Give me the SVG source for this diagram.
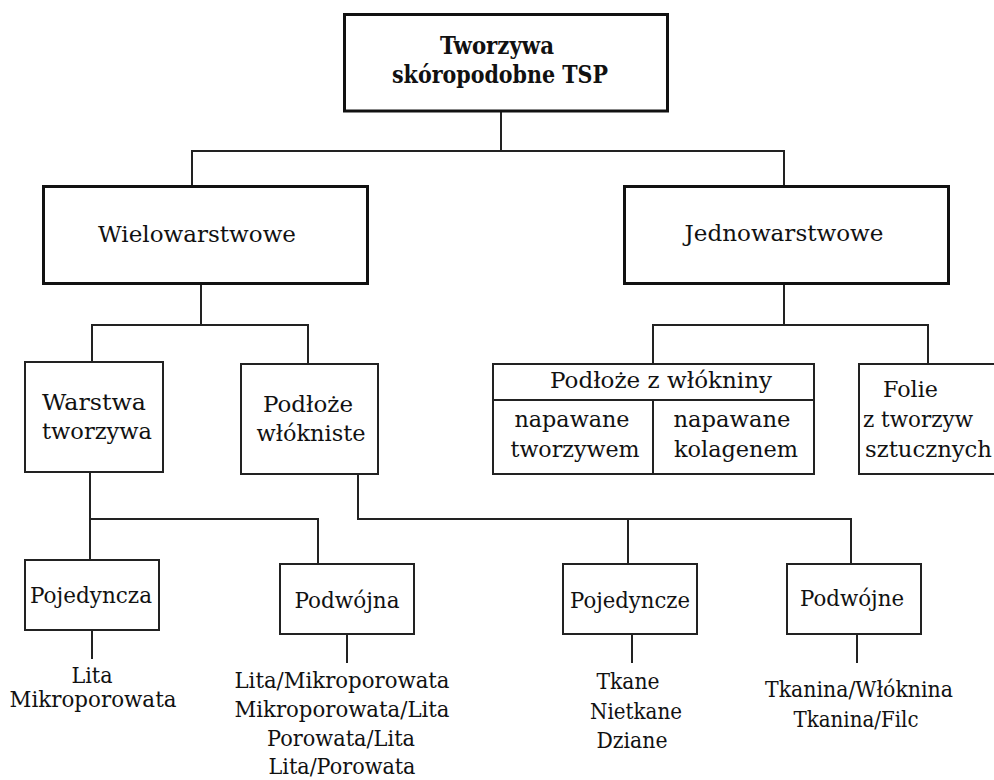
<svg xmlns="http://www.w3.org/2000/svg" width="994" height="780" viewBox="0 0 994 780">
<style>
.bg{fill:#fff}
.thick{fill:#fff;stroke:#111;stroke-width:3}
.thin{fill:#fff;stroke:#222;stroke-width:2}
.conn line,.conn path{stroke:#222;stroke-width:2;fill:none}
text{font-family:"DejaVu Serif","Liberation Serif",serif;font-size:22px;fill:#111;text-anchor:middle}
text.b{font-weight:bold;font-size:24px}
text.s{text-anchor:start}
</style>
<rect class="bg" x="0" y="0" width="994" height="780"/>
<g id="connectors" class="conn">
<path d="M501 111V151M192 185V151H784V185"/>
<path d="M201 285V325M92 361V325H308V363"/>
<path d="M784 285V325M653 363V325H928V363"/>
<path d="M90 473V559M90 519H318V563"/>
<path d="M358 475V519H851V563M628 519V563"/>
<path d="M92 631V659M347 635V663M632 635V663M857 635V663"/>
</g>
<g id="root">
<rect class="thick" x="344.5" y="14.5" width="323" height="96.5"/>
<text class="b" x="497" y="54" textLength="114" lengthAdjust="spacingAndGlyphs">Tworzywa</text>
<text class="b" x="500" y="83" textLength="216" lengthAdjust="spacingAndGlyphs">skóropodobne TSP</text>
</g>
<g id="wielowarstwowe">
<rect class="thick" x="43.5" y="186.5" width="324" height="97"/>
<text x="197" y="242" textLength="198" lengthAdjust="spacingAndGlyphs">Wielowarstwowe</text>
</g>
<g id="jednowarstwowe">
<rect class="thick" x="624.5" y="186.5" width="324" height="97"/>
<text x="784" y="241" textLength="199" lengthAdjust="spacingAndGlyphs">Jednowarstwowe</text>
</g>
<g id="warstwa-tworzywa">
<rect class="thin" x="25" y="362" width="138" height="110"/>
<text x="94" y="410" textLength="104" lengthAdjust="spacingAndGlyphs">Warstwa</text>
<text x="97" y="439" textLength="110" lengthAdjust="spacingAndGlyphs">tworzywa</text>
</g>
<g id="podloze-wlokniste">
<rect class="thin" x="241" y="364" width="137" height="110"/>
<text x="308" y="412" textLength="90" lengthAdjust="spacingAndGlyphs">Podłoże</text>
<text x="311" y="441" textLength="109" lengthAdjust="spacingAndGlyphs">włókniste</text>
</g>
<g id="podloze-z-wlokniny">
<rect class="thin" x="493" y="364" width="321" height="110"/>
<path d="M493 400H814M653 400V474" stroke="#222" stroke-width="2" fill="none"/>
<text x="661" y="388" textLength="222" lengthAdjust="spacingAndGlyphs">Podłoże z włókniny</text>
<text x="572" y="427" textLength="115" lengthAdjust="spacingAndGlyphs">napawane</text>
<text x="575" y="457" textLength="129" lengthAdjust="spacingAndGlyphs">tworzywem</text>
<text x="732" y="427" textLength="117" lengthAdjust="spacingAndGlyphs">napawane</text>
<text x="736" y="457" textLength="124" lengthAdjust="spacingAndGlyphs">kolagenem</text>
</g>
<g id="folie">
<rect class="thin" x="859" y="364" width="140" height="110"/>
<text class="s" x="883" y="397" textLength="55" lengthAdjust="spacingAndGlyphs">Folie</text>
<text class="s" x="863" y="427" textLength="110" lengthAdjust="spacingAndGlyphs">z tworzyw</text>
<text class="s" x="865" y="457" textLength="127" lengthAdjust="spacingAndGlyphs">sztucznych</text>
</g>
<g id="pojedyncza">
<rect class="thin" x="25" y="560" width="134" height="70"/>
<text x="91" y="603" textLength="122" lengthAdjust="spacingAndGlyphs">Pojedyncza</text>
</g>
<g id="pojedyncza-list">
<text x="92" y="683" textLength="41" lengthAdjust="spacingAndGlyphs">Lita</text>
<text x="93" y="707" textLength="167" lengthAdjust="spacingAndGlyphs">Mikroporowata</text>
</g>
<g id="podwojna">
<rect class="thin" x="280" y="564" width="134" height="70"/>
<text x="347" y="608" textLength="105" lengthAdjust="spacingAndGlyphs">Podwójna</text>
</g>
<g id="podwojna-list">
<text x="342" y="688" textLength="215" lengthAdjust="spacingAndGlyphs">Lita/Mikroporowata</text>
<text x="342" y="717" textLength="215" lengthAdjust="spacingAndGlyphs">Mikroporowata/Lita</text>
<text x="341" y="746" textLength="148" lengthAdjust="spacingAndGlyphs">Porowata/Lita</text>
<text x="342" y="774" textLength="147" lengthAdjust="spacingAndGlyphs">Lita/Porowata</text>
</g>
<g id="pojedyncze">
<rect class="thin" x="563" y="564" width="134" height="70"/>
<text x="630" y="608" textLength="120" lengthAdjust="spacingAndGlyphs">Pojedyncze</text>
</g>
<g id="pojedyncze-list">
<text x="628" y="689" textLength="63" lengthAdjust="spacingAndGlyphs">Tkane</text>
<text x="636" y="719" textLength="92" lengthAdjust="spacingAndGlyphs">Nietkane</text>
<text x="632" y="748" textLength="71" lengthAdjust="spacingAndGlyphs">Dziane</text>
</g>
<g id="podwojne">
<rect class="thin" x="787" y="564" width="134" height="70"/>
<text x="852" y="606" textLength="104" lengthAdjust="spacingAndGlyphs">Podwójne</text>
</g>
<g id="podwojne-list">
<text x="859" y="697" textLength="188" lengthAdjust="spacingAndGlyphs">Tkanina/Włóknina</text>
<text x="856" y="727" textLength="125" lengthAdjust="spacingAndGlyphs">Tkanina/Filc</text>
</g>
</svg>
